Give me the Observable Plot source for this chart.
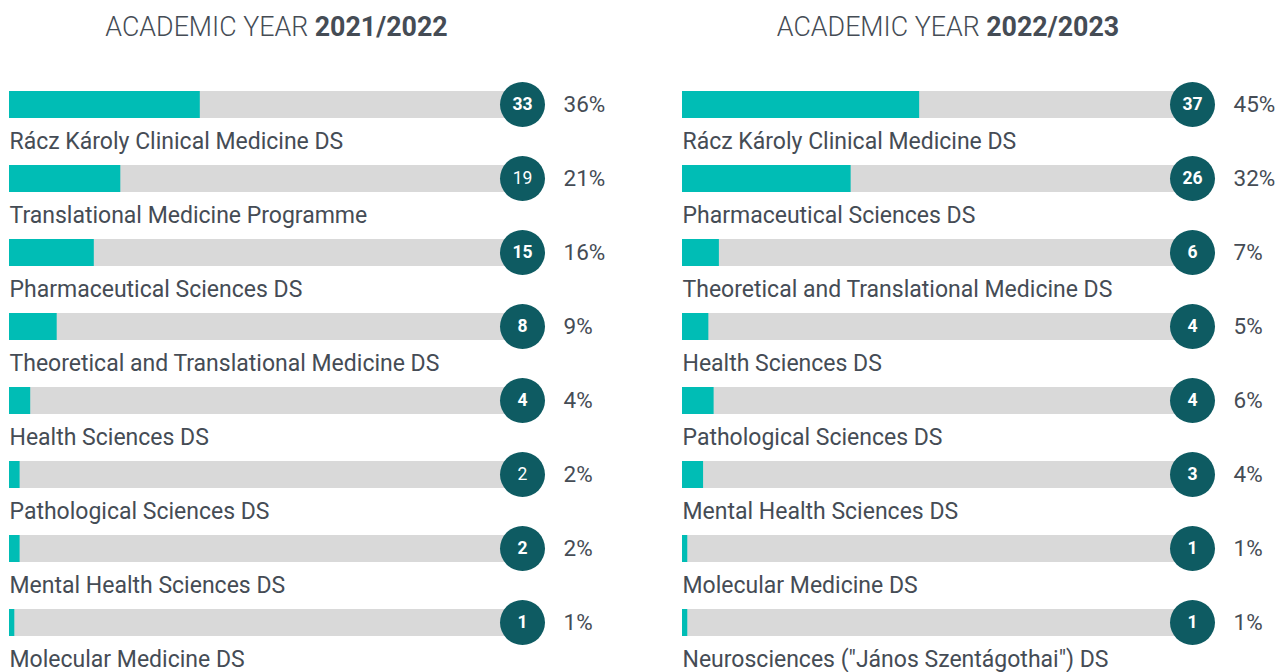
<!DOCTYPE html>
<html>
<head>
<meta charset="utf-8">
<script src="https://cdn.jsdelivr.net/npm/d3@7"></script>
<script src="https://cdn.jsdelivr.net/npm/@observablehq/plot@0.6"></script>
<style>
  html, body { margin: 0; padding: 0; background: #fff; }
  body { width: 1277px; height: 672px; position: relative; overflow: hidden; font-family: Roboto, sans-serif; }
  .title { position: absolute; top: 14px; font-size: 26.8px; line-height: 26px; color: #454c55; text-align: center; white-space: nowrap; font-weight: 300; }
  .title b { font-weight: 700; }
  .panel { position: absolute; top: 60px; line-height: 0; }
  .panel svg { display: block; }
</style>
</head>
<body>
<div class="title" style="left:0;width:553px">ACADEMIC YEAR <b>2021/2022</b></div>
<div class="title" style="left:673px;width:550px">ACADEMIC YEAR <b>2022/2023</b></div>
<div id="left" class="panel" style="left:0"></div>
<div id="right" class="panel" style="left:673px"></div>
<script>
const years = ["2021/2022", "2022/2023"];

const categories2122 = [
  "Rácz Károly Clinical Medicine DS",
  "Translational Medicine Programme",
  "Pharmaceutical Sciences DS",
  "Theoretical and Translational Medicine DS",
  "Health Sciences DS",
  "Pathological Sciences DS",
  "Mental Health Sciences DS",
  "Molecular Medicine DS"
];
const counts2122 = [33, 19, 15, 8, 4, 2, 2, 1];
const percents2122 = [36, 21, 16, 9, 4, 2, 2, 1];

const categories2223 = [
  "Rácz Károly Clinical Medicine DS",
  "Pharmaceutical Sciences DS",
  "Theoretical and Translational Medicine DS",
  "Health Sciences DS",
  "Pathological Sciences DS",
  "Mental Health Sciences DS",
  "Molecular Medicine DS",
  "Neurosciences (\"János Szentágothai\") DS"
];
const counts2223 = [37, 26, 6, 4, 4, 3, 1, 1];
const percents2223 = [45, 32, 7, 5, 6, 4, 1, 1];

// rows whose count badge is rendered in regular (non-bold) weight in the original
const regularBadgeRows2122 = [1, 5];
const regularBadgeRows2223 = [];

const TEAL = "#00bdb5", DARK = "#0e5b62", GRAY = "#d9d9d9", TEXT = "#454c55";

function panel(cats, counts, pcts, regularRows, width, marginRight) {
  const data = cats.map((c, i) => ({cat: c, count: counts[i], pct: pcts[i], i}));
  const isRegular = d => regularRows.includes(d.i);
  return Plot.plot({
    width, height: 612,
    marginLeft: 9, marginRight, marginTop: 40.5, marginBottom: 47,
    style: {fontFamily: "Roboto, sans-serif", overflow: "visible"},
    x: {domain: [0, 100], axis: null},
    y: {type: "point", domain: cats, padding: 0, axis: null},
    marks: [
      Plot.ruleY(data, {y: "cat", x1: 0, x2: 100, stroke: GRAY, strokeWidth: 27}),
      Plot.ruleY(data, {y: "cat", x1: 0, x2: "pct", stroke: TEAL, strokeWidth: 27}),
      Plot.dot(data, {y: "cat", x: 100, dx: -17, r: 22.5, fill: DARK, stroke: "none"}),
      Plot.text(data.filter(d => !isRegular(d)), {y: "cat", x: 100, dx: -17, text: d => String(d.count), fill: "#fff", fontSize: 17.5, fontWeight: 700}),
      Plot.text(data.filter(isRegular), {y: "cat", x: 100, dx: -17, text: d => String(d.count), fill: "#fff", fontSize: 17.5, fontWeight: 400}),
      Plot.text(data, {y: "cat", x: 100, dx: 24, text: d => d.pct + "%", textAnchor: "start", fill: TEXT, fontSize: 22.5, fontWeight: 400}),
      Plot.text(data, {y: "cat", x: 0, dy: 37.5, text: "cat", textAnchor: "start", fill: TEXT, fontSize: 23, fontWeight: 400})
    ]
  });
}

document.getElementById("left").append(panel(categories2122, counts2122, percents2122, regularBadgeRows2122, 640, 101));
document.getElementById("right").append(panel(categories2223, counts2223, percents2223, regularBadgeRows2223, 604, 68));
</script>
</body>
</html>
